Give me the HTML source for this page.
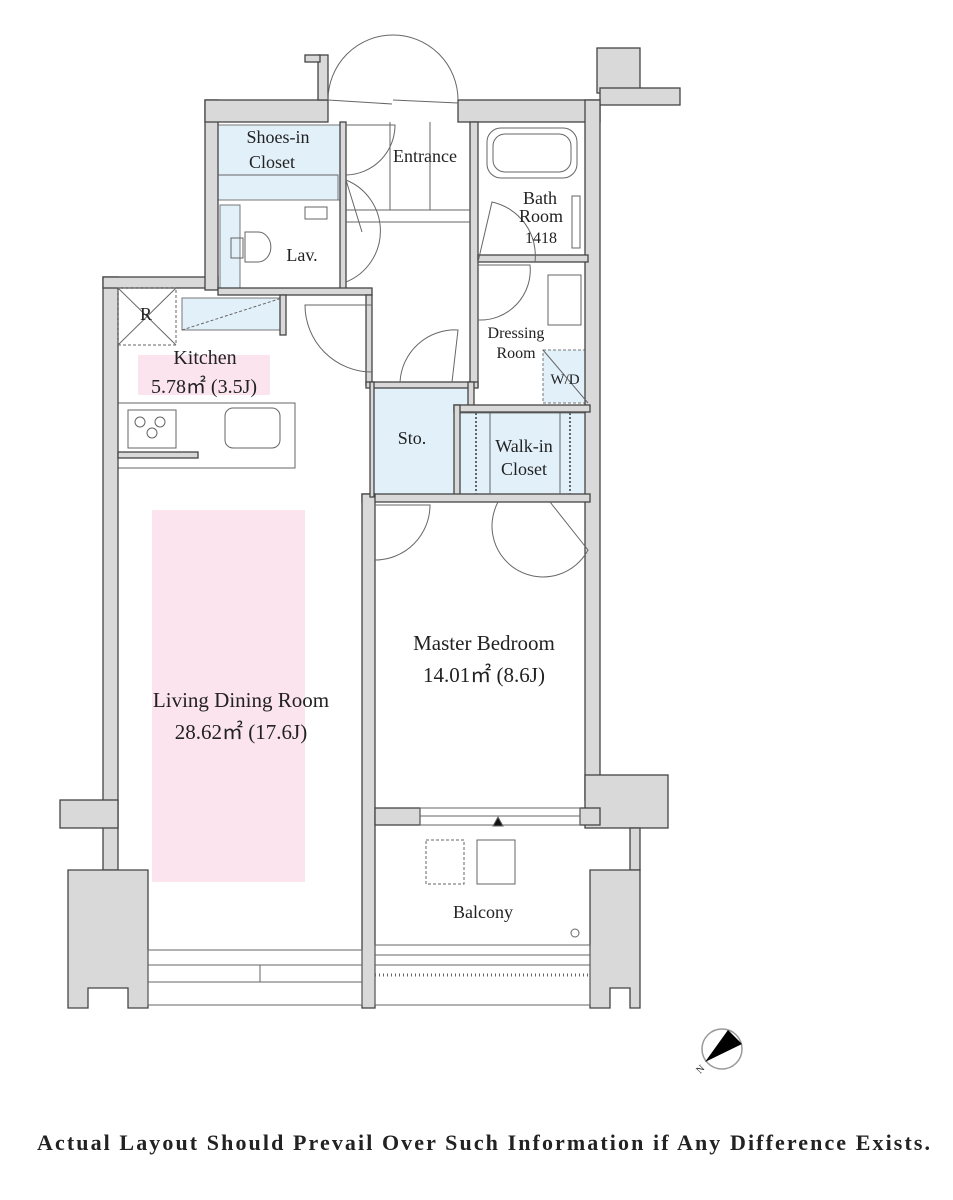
<!DOCTYPE html>
<html><head><meta charset="utf-8"><style>
html,body{margin:0;padding:0;background:#fff;width:953px;height:1200px;overflow:hidden}
svg{display:block}
text{font-family:"Liberation Serif",serif;fill:#222}
</style></head><body>
<svg width="953" height="1200" viewBox="0 0 953 1200" xmlns="http://www.w3.org/2000/svg">
<g fill="#e2f0fa" stroke="#777" stroke-width="1">
<rect x="218" y="125" width="122" height="75"/>
<rect x="218" y="175" width="120" height="25"/>
<rect x="220" y="205" width="20" height="83"/>
<rect x="182" y="298" width="100" height="32"/>
<rect x="374" y="388" width="94" height="106"/>
<rect x="460" y="413" width="128" height="81"/>
<rect x="543" y="350" width="45" height="53" stroke-dasharray="3,2"/>
</g>
<rect x="138" y="355" width="132" height="40" fill="#fbe4ee"/>
<rect x="152" y="510" width="153" height="372" fill="#fbe4ee"/>
<rect x="118" y="403" width="177" height="65" fill="none" stroke="#666" stroke-width="1"/>
<g fill="#d9d9d9" stroke="#444" stroke-width="1.3">
<rect x="103" y="277" width="15" height="593"/>
<rect x="103" y="277" width="115" height="11"/>
<rect x="60" y="800" width="58" height="28"/>
<polygon points="68,870 148,870 148,1008 128,1008 128,988 88,988 88,1008 68,1008"/>
<rect x="205" y="100" width="13" height="190"/>
<rect x="205" y="100" width="123" height="22"/>
<rect x="318" y="55" width="10" height="45"/>
<rect x="305" y="55" width="15" height="7"/>
<rect x="458" y="100" width="142" height="22"/>
<rect x="597" y="48" width="43" height="45"/>
<rect x="600" y="88" width="80" height="17"/>
<rect x="585" y="100" width="15" height="700"/>
<rect x="585" y="775" width="83" height="53"/>
<rect x="630" y="828" width="10" height="42"/>
<polygon points="590,870 640,870 640,1008 630,1008 630,988 610,988 610,1008 590,1008"/>
<rect x="340" y="122" width="6" height="168"/>
<rect x="218" y="288" width="154" height="7"/>
<rect x="280" y="295" width="6" height="40"/>
<rect x="366" y="295" width="6" height="90"/>
<rect x="470" y="122" width="8" height="265"/>
<rect x="366" y="382" width="112" height="6"/>
<rect x="468" y="382" width="6" height="30"/>
<rect x="454" y="405" width="136" height="7"/>
<rect x="454" y="405" width="6" height="90"/>
<rect x="362" y="494" width="228" height="8"/>
<rect x="362" y="494" width="13" height="514"/>
<rect x="370" y="382" width="4" height="115"/>
<rect x="478" y="255" width="110" height="7"/>
<rect x="375" y="808" width="45" height="17"/>
<rect x="580" y="808" width="20" height="17"/>
<rect x="118" y="452" width="80" height="6"/>
</g>
<g fill="none" stroke="#666" stroke-width="1">
<rect x="420" y="808" width="160" height="17"/>
<line x1="420" y1="816" x2="580" y2="816"/>
<polygon points="493,826 503,826 498,817" fill="#111"/>
<rect x="148" y="950" width="214" height="55"/>
<line x1="148" y1="965" x2="362" y2="965"/>
<line x1="148" y1="982" x2="362" y2="982"/>
<line x1="260" y1="965" x2="260" y2="982"/>
<rect x="375" y="945" width="215" height="60"/>
<line x1="375" y1="955" x2="590" y2="955"/>
<line x1="375" y1="965" x2="590" y2="965"/>
<line x1="375" y1="975" x2="590" y2="975" stroke-dasharray="1,3" stroke-width="3"/>
<circle cx="575" cy="933" r="4"/>
<rect x="426" y="840" width="38" height="44" stroke-dasharray="3,2"/>
<rect x="477" y="840" width="38" height="44"/>
<path d="M328,100 A65,65 0 0 1 458,100"/>
<line x1="328" y1="100" x2="392" y2="104"/>
<line x1="393" y1="100" x2="458" y2="103"/>
<path d="M346,125 L395,125 A50,50 0 0 1 346,175"/>
<path d="M346,180 L362,232 M346,180 A55,55 0 0 1 346,282"/>
<line x1="346" y1="210" x2="470" y2="210"/>
<line x1="346" y1="222" x2="470" y2="222"/>
<line x1="390" y1="122" x2="390" y2="210"/>
<line x1="430" y1="122" x2="430" y2="210"/>
<path d="M372,305 L305,305 A67,67 0 0 0 372,372"/>
<path d="M400,382 A55,55 0 0 1 458,330 L452,382"/>
<path d="M478,265 L530,265 A50,50 0 0 1 478,320"/>
<path d="M478,262 L492,202 A55,55 0 0 1 535,262"/>
<path d="M375,505 L430,505 A55,55 0 0 1 375,560"/>
<path d="M498,502 A45,45 0 0 0 588,550 L550,502"/>
<rect x="487" y="128" width="90" height="50" rx="14"/>
<rect x="493" y="134" width="78" height="38" rx="12"/>
<rect x="572" y="196" width="8" height="52"/>
<rect x="548" y="275" width="33" height="50"/>
<line x1="543" y1="350" x2="588" y2="403"/>
<rect x="118" y="288" width="58" height="57" stroke-dasharray="3,2"/>
<line x1="118" y1="288" x2="176" y2="345"/><line x1="176" y1="288" x2="118" y2="345"/>
<line x1="182" y1="330" x2="282" y2="298" stroke-dasharray="3,2"/>
<rect x="128" y="410" width="48" height="38"/>
<circle cx="140" cy="422" r="5"/><circle cx="160" cy="422" r="5"/><circle cx="152" cy="433" r="5"/>
<rect x="225" y="408" width="55" height="40" rx="8"/>
<path d="M245,232 L258,232 A12,14 0 0 1 258,262 L245,262 Z"/>
<rect x="231" y="238" width="12" height="20"/>
<rect x="305" y="207" width="22" height="12"/>
<line x1="476" y1="413" x2="476" y2="494" stroke-dasharray="2,2" stroke-width="2"/>
<line x1="570" y1="413" x2="570" y2="494" stroke-dasharray="2,2" stroke-width="2"/>
<line x1="490" y1="413" x2="490" y2="494"/>
<line x1="560" y1="413" x2="560" y2="494"/>
<line x1="218" y1="175" x2="338" y2="175"/>
</g>
<g font-size="18" text-anchor="middle">
<text x="278" y="143">Shoes-in</text>
<text x="272" y="168">Closet</text>
<text x="425" y="162">Entrance</text>
<text x="540" y="204">Bath</text>
<text x="541" y="222">Room</text>
<text x="541" y="243" font-size="16">1418</text>
<text x="302" y="261">Lav.</text>
<text x="146" y="320">R</text>
<text x="516" y="338" font-size="16">Dressing</text>
<text x="516" y="358" font-size="16">Room</text>
<text x="565" y="384" font-size="15">W/D</text>
<text x="205" y="364" font-size="20">Kitchen</text>
<text x="204" y="393" font-size="20">5.78㎡ (3.5J)</text>
<text x="412" y="444">Sto.</text>
<text x="524" y="452">Walk-in</text>
<text x="524" y="475">Closet</text>
<text x="484" y="650" font-size="21">Master Bedroom</text>
<text x="484" y="682" font-size="21">14.01㎡ (8.6J)</text>
<text x="241" y="707" font-size="21">Living Dining Room</text>
<text x="241" y="739" font-size="21">28.62㎡ (17.6J)</text>
<text x="483" y="918">Balcony</text>
</g>
<circle cx="722" cy="1049" r="20" fill="none" stroke="#999" stroke-width="1.5"/>
<polygon points="705,1062 728,1030 742,1044" fill="#000"/>
<text x="700" y="1074" font-size="10" transform="rotate(-45 700 1074)">N</text>
<text x="37" y="1150" font-size="22" font-weight="bold" textLength="893" lengthAdjust="spacing">Actual Layout Should Prevail Over Such Information if Any Difference Exists.</text>
</svg>
</body></html>
